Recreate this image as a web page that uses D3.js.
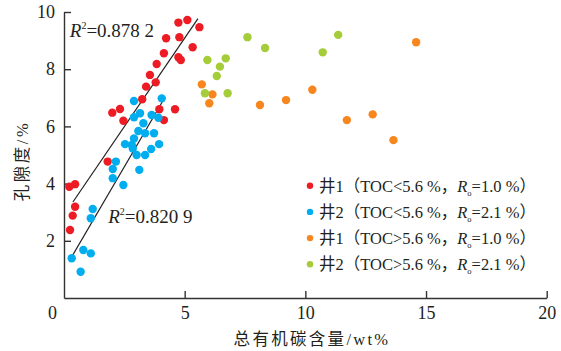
<meta charset="utf-8">
<style>
	body { margin: 0; background: #fff; }
	svg text { font-family: "Liberation Serif", "Times New Roman", "Noto Sans CJK SC", serif; fill: #231f20; }
	.axis path, .axis line { stroke: #333; stroke-width: 1.4; }
</style>
<svg width="561" height="351" id="chart"></svg>
<script src="https://cdn.jsdelivr.net/npm/d3@7/dist/d3.min.js"></script>
<script>
	// TOC (wt%) vs porosity (%) readings, one array per legend group
	var well1Low = [[4.74,9.63],[5.11,9.72],[5.61,9.47],[4.23,9.08],[4.78,9.12],[5.33,8.77],[4.14,8.56],[4.74,8.42],
		[4.84,8.32],[3.84,8.18],[3.56,7.80],[3.80,7.54],[3.40,7.39],[3.24,6.95],[2.32,6.61],[2.00,6.48],[2.46,6.20],
		[3.95,6.60],[4.60,6.60],[4.14,6.22],[1.81,4.77],[0.22,3.89],[0.46,3.98],[0.46,3.19],[0.36,2.88],[0.25,2.38]];
	var well2Low = [[2.90,6.89],[4.05,6.98],[2.90,6.32],[3.15,6.46],[3.63,6.40],[3.91,6.30],[3.29,6.11],[3.08,5.84],
		[3.36,5.76],[3.73,5.76],[2.90,5.58],[2.53,5.38],[2.81,5.35],[2.85,5.23],[3.94,5.38],[3.61,5.21],[3.01,5.00],
		[3.36,5.00],[2.15,4.77],[2.02,4.51],[3.12,4.48],[2.02,4.19],[2.46,3.95],[1.19,3.11],[1.11,2.79],[0.80,1.68],
		[1.11,1.56],[0.32,1.39],[0.69,0.92]];
	var well1High = [[5.71,7.47],[6.15,7.12],[6.02,6.81],[8.12,6.75],[9.20,6.92],[10.29,7.28],[11.72,6.22],[12.79,6.42],
		[13.65,5.52],[14.59,8.94]];
	var well2High = [[7.60,9.12],[8.33,8.74],[11.36,9.20],[10.72,8.59],[5.94,8.32],[6.70,8.38],[6.46,8.09],[6.33,7.76],
		[5.84,7.16],[6.78,7.16]];

	// fitted lines: [slope, intercept, xFrom, xTo]
	var fitWell1 = [1.238, 2.898, 0.37, 5.55];
	var fitWell2 = [1.444, 0.978, 0.32, 4.19];
	var fitLabels = [["0.878 2", 0.24, 9.12], ["0.820 9", 1.83, 2.63]];

	var xTicks = [0, 5, 10, 15, 20];
	var yTicks = [2, 4, 6, 8, 10];
	var legendLabels = [["井1（TOC<5.6 %，", "1.0 %）"], ["井2（TOC<5.6 %，", "2.1 %）"],
		["井1（TOC>5.6 %，", "1.0 %）"], ["井2（TOC>5.6 %，", "2.1 %）"]];
	var colors = ["#ed1c24", "#00aeef", "#f7861f", "#a4cd39"];

	var svg = d3.select("#chart");
	var x = d3.scaleLinear().domain([0, 20]).range([64, 546.7]);
	var y = d3.scaleLinear().domain([0, 10]).range([298, 12]);

	var xAxis = svg.append("g").attr("class", "axis")
		.attr("transform", "translate(0,298)")
		.call(d3.axisBottom(x).tickValues(xTicks).tickSizeInner(-7).tickSizeOuter(0).tickPadding(8));
	var yAxis = svg.append("g").attr("class", "axis")
		.attr("transform", "translate(64,0)")
		.call(d3.axisLeft(y).tickValues(yTicks).tickSizeInner(-7).tickSizeOuter(0).tickPadding(9));
	svg.selectAll(".axis").attr("font-family", null).attr("font-size", null);
	svg.selectAll(".axis text").attr("fill", null).style("font-size", "18px");
	xAxis.selectAll(".tick").filter(function(d) { return d === 0; })
		.call(function(t) { t.select("line").remove(); t.select("text").attr("x", -12); });

	// axis titles
	svg.append("text").attr("x", 312).attr("y", 345).attr("text-anchor", "middle")
		.style("font-size", "16.5px").style("letter-spacing", "2.3px").text("总有机碳含量/wt%");
	svg.append("text").attr("transform", "translate(28,161) rotate(-90)").attr("text-anchor", "middle")
		.style("font-size", "16.5px").style("letter-spacing", "2.5px").text("孔隙度/%");

	// regression lines
	[fitWell1, fitWell2].forEach(function(f) {
		svg.append("line")
			.attr("x1", x(f[2])).attr("y1", y(f[0] * f[2] + f[1]))
			.attr("x2", x(f[3])).attr("y2", y(f[0] * f[3] + f[1]))
			.attr("stroke", "#231f20").attr("stroke-width", 1.2);
	});

	[well1Low, well2Low, well1High, well2High].forEach(function(set, i) {
		svg.append("g").selectAll("circle").data(set).enter().append("circle")
			.attr("cx", function(d) { return x(d[0]); })
			.attr("cy", function(d) { return y(d[1]); })
			.attr("r", 4.2)
			.attr("fill", colors[i]);
	});

	fitLabels.forEach(function(l) {
		var t = svg.append("text").attr("x", x(l[1])).attr("y", y(l[2])).style("font-size", "19px");
		t.append("tspan").attr("font-style", "italic").text("R");
		t.append("tspan").attr("dy", -8).style("font-size", "10px").text("2");
		t.append("tspan").attr("dy", 8).text("=" + l[0]);
	});

	// legend
	var legend = svg.append("g").selectAll("g").data(legendLabels).enter().append("g")
		.attr("transform", function(d, i) { return "translate(310," + (185.7 + i * 26.2) + ")"; });
	legend.append("circle").attr("r", 3.2).attr("fill", function(d, i) { return colors[i]; });
	var lt = legend.append("text").attr("x", 9).attr("y", 6).style("font-size", "16.5px");
	lt.append("tspan").text(function(d) { return d[0]; });
	lt.append("tspan").attr("font-style", "italic").text("R");
	lt.append("tspan").attr("dy", 4).style("font-size", "8.5px").text("o");
	lt.append("tspan").attr("dy", -4).text(function(d) { return "=" + d[1]; });
</script>
